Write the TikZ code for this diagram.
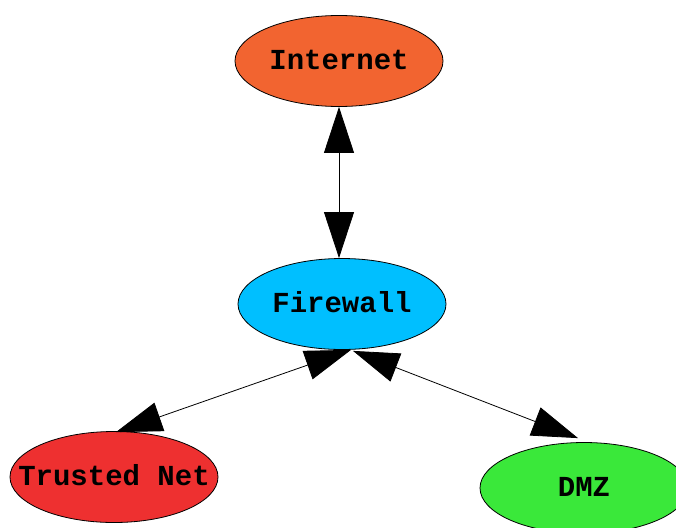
\documentclass[tikz,border=0pt]{standalone}
\usepackage{fontspec}
\setmonofont{Liberation Mono}
\usetikzlibrary{arrows.meta,shapes.geometric}
\definecolor{inetcol}{RGB}{242,100,48}
\definecolor{fwcol}{RGB}{0,191,255}
\definecolor{tncol}{RGB}{238,48,48}
\definecolor{dmzcol}{RGB}{58,232,58}
\newcommand{\nodetext}[1]{\makebox[0pt][c]{#1}}
\begin{document}
\begin{tikzpicture}[x=1pt,y=-1pt,
  netnode/.style={ellipse, draw=black, line width=0.8pt, minimum width=208pt,
    minimum height=91pt, inner sep=0pt, text height=17pt, text depth=0pt,
    font=\ttfamily\bfseries\fontsize{29}{29}\selectfont},
  link/.style={line width=0.8pt,
    {Triangle[length=46pt,width=30pt]}-{Triangle[length=46pt,width=30pt]}}]
\useasboundingbox (0,0) rectangle (676,527);
\node[netnode, fill=inetcol] (inet) at (339,61) {\nodetext{Internet}};
\node[netnode, fill=fwcol] (fw) at (342,304) {\nodetext{Firewall}};
\node[netnode, fill=tncol] (tn) at (114,477) {\nodetext{Trusted Net}};
\node[netnode, fill=dmzcol] (dmz) at (584,488) {\nodetext{DMZ}};
\coordinate (fwl) at ([shift={(9,0)}]fw.south);
\coordinate (fwr) at ([shift={(11,1)}]fw.south);
\coordinate (tnt) at ([shift={(2,1)}]tn.north);
\coordinate (dmzt) at ([shift={(-6,-4)}]dmz.north);
\draw[link] (inet.south) -- (inet.south |- fw.north);
\draw[link] (fwl) -- (tnt);
\draw[link] (fwr) -- (dmzt);
\end{tikzpicture}
\end{document}
